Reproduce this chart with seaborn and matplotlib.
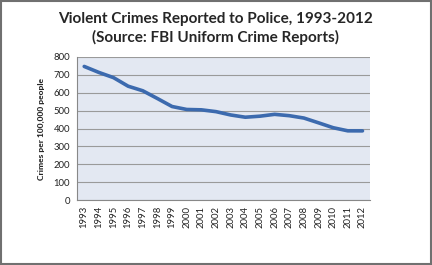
import matplotlib
matplotlib.use("Agg")
import matplotlib.pyplot as plt
import seaborn as sns
import pandas as pd
from matplotlib.patches import Rectangle

years = [str(y) for y in range(1993, 2013)]
rates = [747.1, 713.6, 684.5, 636.6, 611.0, 567.6, 523.0, 506.5, 504.5, 494.4,
         475.8, 463.2, 469.0, 479.3, 471.8, 458.6, 431.9, 404.5, 387.1, 386.9]
yticks = [0, 100, 200, 300, 400, 500, 600, 700, 800]

sns.set_style("white")
plt.rcParams['font.family'] = ['Lato', 'DejaVu Sans']

fig = plt.figure(figsize=(4.32, 2.65), dpi=100)
ax = fig.add_axes([0.178, 0.245, 0.678, 0.54])
ax.set_facecolor("#E3E8F2")

df = pd.DataFrame({"year": years, "rate": rates})
sns.lineplot(data=df, x="year", y="rate", ax=ax, color="#3C6AAE", linewidth=2.6,
             sort=False)

ax.set_xlim(-0.5, len(years) - 0.5)
ax.set_ylim(0, 800)
ax.set_yticks(yticks)
ax.set_yticklabels([str(v) for v in yticks], fontsize=6.8, color="#222222")
ax.yaxis.grid(True, color="#9A9A9A", linewidth=0.8)
ax.set_axisbelow(True)

ax.set_xticks(range(len(years)))
ax.set_xticklabels(years, rotation=90, fontsize=6.8, color="#222222")
ax.tick_params(axis="x", length=0, pad=4)
ax.set_xticks([i - 0.5 for i in range(len(years) + 1)], minor=True)
ax.tick_params(axis="x", which="minor", length=3, color="#888888", direction="out")
ax.tick_params(axis="y", length=3, color="#888888", direction="out", pad=2)

for s in ["top", "right"]:
    ax.spines[s].set_visible(False)
for s in ["left", "bottom"]:
    ax.spines[s].set_color("#888888")
    ax.spines[s].set_linewidth(0.8)

ax.set_xlabel("")
ax.set_ylabel("Crimes per 100,000 people", fontsize=6.0, fontweight="black", labelpad=6)

fig.text(0.5, 0.928, "Violent Crimes Reported to Police, 1993-2012",
         ha="center", va="center", fontsize=11, fontweight="bold")
fig.text(0.5, 0.86, "(Source: FBI Uniform Crime Reports)",
         ha="center", va="center", fontsize=11, fontweight="bold")

fig.patches.append(Rectangle((0.002, 0.004), 0.995, 0.992, transform=fig.transFigure,
                             fill=False, edgecolor="#707070", linewidth=1.5))

fig.savefig("out.png", dpi=100)
